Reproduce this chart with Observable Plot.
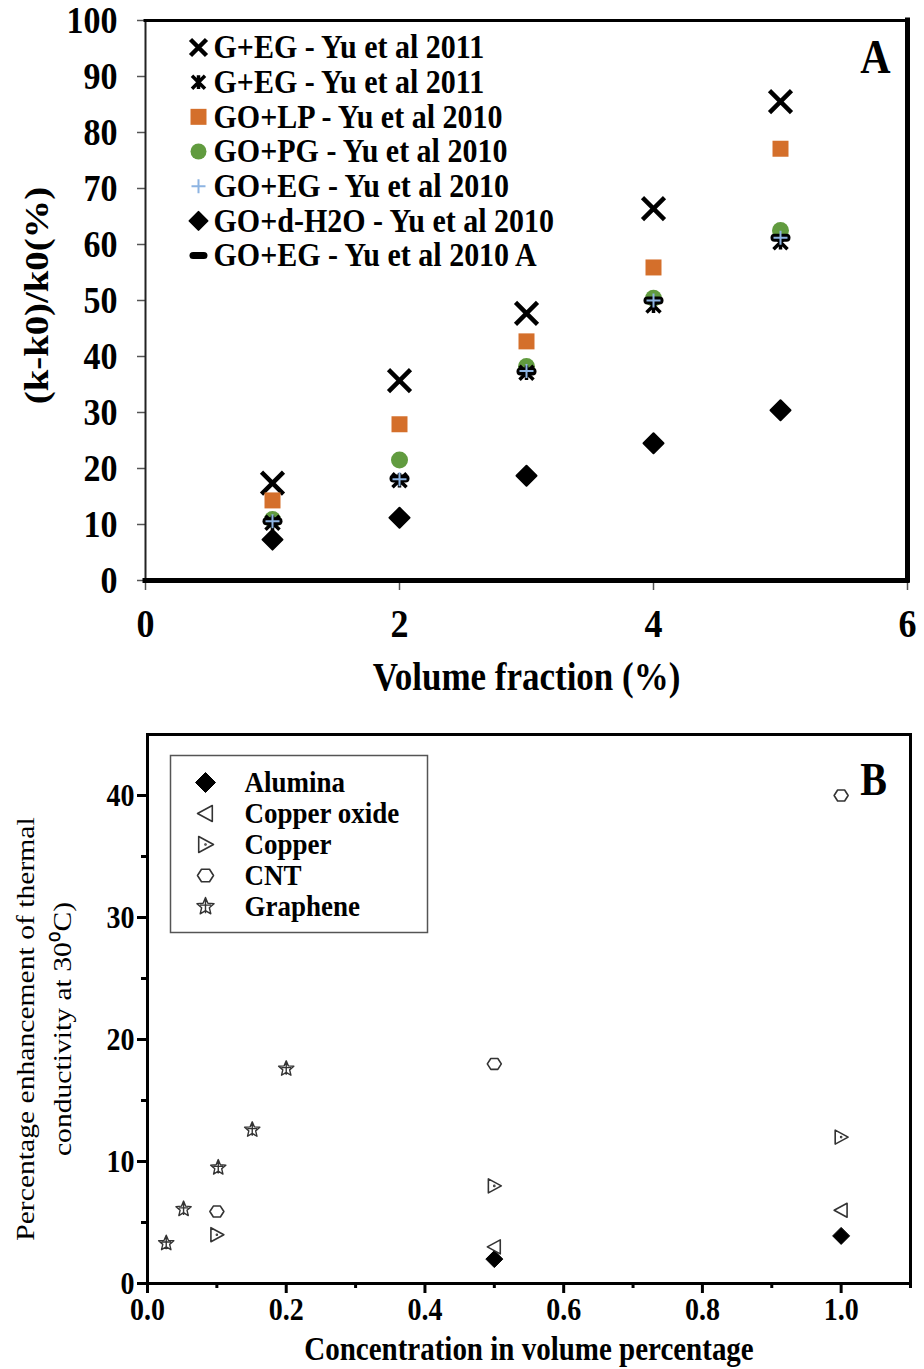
<!DOCTYPE html>
<html><head><meta charset="utf-8">
<script src="https://cdn.jsdelivr.net/npm/d3@7"></script>
<script src="https://cdn.jsdelivr.net/npm/@observablehq/plot@0.6"></script>
<style>
html,body{margin:0;padding:0;background:#fff;overflow:hidden;}
#root{position:relative;width:924px;height:1369px;overflow:hidden;background:#fff;}
#root svg{position:absolute;max-width:none;}
</style></head>
<body><div id="root"></div>
<script>
// ---------------- DATA: panel A ----------------
const xTicksA = [0, 2, 4, 6];
const yTicksA = [0, 10, 20, 30, 40, 50, 60, 70, 80, 90, 100];
const xDomainA = [0, 6];
const yDomainA = [0, 100];
const volumeFraction = [1, 2, 3, 4, 5];
const seriesNamesA = [
  "G+EG - Yu et al 2011",
  "G+EG - Yu et al 2011",
  "GO+LP - Yu et al 2010",
  "GO+PG - Yu et al 2010",
  "GO+EG - Yu et al 2010",
  "GO+d-H2O - Yu et al 2010",
  "GO+EG - Yu et al 2010 A"
];
const gEg2011Cross    = [17.4, 35.7, 47.7, 66.4, 85.5];
const gEg2011Star     = [10.3, 17.9, 37.1, 49.1, 60.4];
const goLp2010        = [14.3, 27.9, 42.7, 55.9, 77.1];
const goPg2010        = [10.9, 21.5, 38.2, 50.4, 62.5];
const goEg2010        = [10.6, 18.1, 37.4, 50.0, 61.2];
const goH2o2010       = [7.3, 11.2, 18.7, 24.5, 30.4];
const goEg2010A       = [10.6, 18.2, 37.3, 50.0, 61.2];
const xLabelA = "Volume fraction (%)";
const yLabelA = "(k-k0)/k0(%)";
const panelLabelA = "A";

// ---------------- DATA: panel B ----------------
const xTicksB = [0, 0.2, 0.4, 0.6, 0.8, 1.0];
const xMinorTicksB = [0.1, 0.3, 0.5, 0.7, 0.9, 1.1];
const yTicksB = [0, 10, 20, 30, 40];
const yMinorTicksB = [5, 15, 25, 35];
const xDomainB = [0, 1.1];
const yDomainB = [0, 45];
const materialsB = ["Alumina", "Copper oxide", "Copper", "CNT", "Graphene"];
const aluminaX = [0.5, 1.0];           const aluminaY = [2.0, 3.9];
const copperOxideX = [0.5, 1.0];       const copperOxideY = [3.0, 6.0];
const copperX = [0.1, 0.5, 1.0];       const copperY = [4.0, 8.0, 12.0];
const cntX = [0.1, 0.5, 1.0];          const cntY = [5.9, 18.0, 40.0];
const grapheneX = [0.027, 0.052, 0.102, 0.151, 0.2];
const grapheneY = [3.3, 6.1, 9.5, 12.6, 17.6];
const xLabelB = "Concentration in volume percentage";
const yLabelB1 = "Percentage enhancement of thermal";
const yLabelB2 = "conductivity at 30\u2070C)";
const panelLabelB = "B";

// ---------------- symbols ----------------
const R = s => Math.sqrt(s / Math.PI);
const symTimes = {draw(c, s){const r = R(s); c.moveTo(-r,-r); c.lineTo(r,r); c.moveTo(-r,r); c.lineTo(r,-r);}};
const symAsterisk = {draw(c, s){const r = R(s); c.moveTo(-r,-r); c.lineTo(r,r); c.moveTo(-r,r); c.lineTo(r,-r); c.moveTo(0,-r*1.05); c.lineTo(0,r*1.05);}};
const symSquare = {draw(c, s){const r = R(s); c.moveTo(-r,-r); c.lineTo(r,-r); c.lineTo(r,r); c.lineTo(-r,r); c.closePath();}};
const symCircle = {draw(c, s){const r = R(s); c.moveTo(r,0); c.arc(0,0,r,0,2*Math.PI);}};
const symPlus = {draw(c, s){const r = R(s); c.moveTo(-r,0); c.lineTo(r,0); c.moveTo(0,-r); c.lineTo(0,r);}};
const symDiamond = {draw(c, s){const r = R(s); c.moveTo(0,-r); c.lineTo(r,0); c.lineTo(0,r); c.lineTo(-r,0); c.closePath();}};
const symDash = {draw(c, s){const w = R(s), h = w*0.4;
  c.moveTo(-w+h,-h); c.lineTo(w-h,-h); c.arc(w-h,0,h,-Math.PI/2,Math.PI/2);
  c.lineTo(-w+h,h); c.arc(-w+h,0,h,Math.PI/2,3*Math.PI/2); c.closePath();}};
const symTriLeft = {draw(c, s){const r = R(s); c.moveTo(-r,0); c.lineTo(r*0.85,-r); c.lineTo(r*0.85,r); c.closePath();}};
const symTriRight = {draw(c, s){const r = R(s); c.moveTo(r,0); c.lineTo(-r*0.85,-r); c.lineTo(-r*0.85,r); c.closePath();
  c.moveTo(0.5,0); c.arc(0,0,0.5,0,2*Math.PI);}};
const symHexagon = {draw(c, s){const r = R(s);
  for (let k = 0; k < 6; k++){const a = Math.PI/3*k; const x = r*Math.cos(a), y = r*0.9*Math.sin(a); k ? c.lineTo(x,y) : c.moveTo(x,y);} c.closePath();}};
const symStar = {draw(c, s){const r = R(s);
  for (let k = 0; k < 10; k++){const a = -Math.PI/2 + Math.PI/5*k; const rr = k%2 ? r*0.45 : r; const x = rr*Math.cos(a), y = rr*Math.sin(a); k ? c.lineTo(x,y) : c.moveTo(x,y);} c.closePath();
  c.moveTo(0,-r); c.lineTo(0,r*0.75); c.moveTo(-r*0.6,-r*0.15); c.lineTo(r*0.6,-r*0.15);}};

// ---------------- styles ----------------
const FONT = "'Liberation Serif','Times New Roman',Times,serif";
const K = 1.14;
const svgStyle = {fontFamily: FONT, background: "transparent", color: "black", overflow: "visible"};

const valuesA = [gEg2011Cross, gEg2011Star, goLp2010, goPg2010, goEg2010, goH2o2010, goEg2010A];
const stylesA = [
  {symbol: symTimes,    r: 11,  lr: 8,   fill: "none",    stroke: "#000",    strokeWidth: 4.5},
  {symbol: symAsterisk, r: 7,   lr: 6.5, fill: "none",    stroke: "#000",    strokeWidth: 3.5},
  {symbol: symSquare,   r: 8,   lr: 8,   fill: "#D46F2B", stroke: "none",    strokeWidth: 0},
  {symbol: symCircle,   r: 8.5, lr: 8,   fill: "#619B3F", stroke: "none",    strokeWidth: 0},
  {symbol: symPlus,     r: 7,   lr: 7,   fill: "none",    stroke: "#8DB4E2", strokeWidth: 2},
  {symbol: symDiamond,  r: 10,  lr: 9,   fill: "#000",    stroke: "#000",    strokeWidth: 2},
  {symbol: symDash,     r: 10,  lr: 9,   fill: "#000",    stroke: "none",    strokeWidth: 0}
];
const drawOrderA = [0, 2, 3, 1, 6, 4, 5];

const rowsA = seriesNamesA.flatMap((name, i) => valuesA[i].map((v, j) => ({series: i, name, x: volumeFraction[j], y: v})));

const xsB = [aluminaX, copperOxideX, copperX, cntX, grapheneX];
const ysB = [aluminaY, copperOxideY, copperY, cntY, grapheneY];
const stylesB = [
  {symbol: symDiamond,  r: 8.5, lr: 10, fill: "#000", stroke: "#000", strokeWidth: 1},
  {symbol: symTriLeft,  r: 7,   lr: 8,  fill: "none", stroke: "#333", strokeWidth: 1.6},
  {symbol: symTriRight, r: 7,   lr: 8,  fill: "none", stroke: "#333", strokeWidth: 1.6},
  {symbol: symHexagon,  r: 7,   lr: 8,  fill: "none", stroke: "#333", strokeWidth: 1.6},
  {symbol: symStar,     r: 8,   lr: 9,  fill: "none", stroke: "#333", strokeWidth: 1.4}
];
const rowsB = materialsB.flatMap((name, i) => xsB[i].map((x, j) => ({series: i, name, x, y: ysB[i][j]})));

// ---------------- helpers ----------------
const isNum = v => v != null && /^\s*-?[\d.]+\s*$/.test(v);
function stretch(svg, k){
  svg.querySelectorAll("text").forEach(t => {
    const tr = t.getAttribute("transform") || "";
    const rotated = /rotate\(/.test(tr);
    let extra = "";
    const x = t.getAttribute("x"), y = t.getAttribute("y");
    const nx = isNum(x) ? +x : 0, ny = isNum(y) ? +y : 0;
    if (nx || ny) {
      extra += ` translate(${nx},${ny})`;
      if (isNum(x)) t.removeAttribute("x");
      if (isNum(y)) t.removeAttribute("y");
    }
    extra += rotated ? ` scale(${k},1)` : ` scale(1,${k})`;
    t.setAttribute("transform", (tr + extra).trim());
  });
}
function place(svg, left, top, k = K){
  svg.style.left = left + "px"; svg.style.top = top + "px";
  stretch(svg, k);
  document.getElementById("root").appendChild(svg);
}
const dotStyle = (st, r) => ({symbol: st.symbol, r, fill: st.fill, stroke: st.stroke, strokeWidth: st.strokeWidth, strokeLinejoin: "round", strokeLinecap: "butt"});

// ---------------- panel A ----------------
const plotA = Plot.plot({
  width: 924, height: 700,
  marginTop: 20, marginBottom: 120, marginLeft: 145, marginRight: 17,
  x: {domain: xDomainA}, y: {domain: yDomainA},
  style: svgStyle,
  marks: [
    Plot.axisY({ticks: yTicksA, tickFormat: d => String(d), tickSize: 8, tickPadding: 20, fontSize: 34, fontWeight: "bold", stroke: "#555", strokeWidth: 1.5, label: null}),
    Plot.axisX({ticks: xTicksA, tickFormat: d => String(d), tickSize: 10, tickPadding: 17, fontSize: 36, fontWeight: "bold", stroke: "#555", strokeWidth: 1.5, label: null}),
    Plot.ruleX([xDomainA[0]], {stroke: "#222", strokeWidth: 2}),
    Plot.ruleY([yDomainA[1]], {stroke: "#000", strokeWidth: 3, strokeLinecap: "square"}),
    Plot.ruleX([xDomainA[1]], {stroke: "#000", strokeWidth: 5, strokeLinecap: "square"}),
    Plot.ruleY([yDomainA[0]], {stroke: "#000", strokeWidth: 5, strokeLinecap: "square"}),
    ...drawOrderA.map(i => Plot.dot(rowsA.filter(d => d.series === i), {x: "x", y: "y", ...dotStyle(stylesA[i], stylesA[i].r)})),
    Plot.text([yLabelA], {text: d => d, frameAnchor: "left", dx: -108, dy: -5, rotate: -90, textAnchor: "middle", lineAnchor: "middle", fontSize: 34, fontWeight: "bold"}),
    Plot.text([xLabelA], {text: d => d, frameAnchor: "bottom", dy: 97, textAnchor: "middle", lineAnchor: "middle", fontSize: 35, fontWeight: "bold"}),
    Plot.text([panelLabelA], {text: d => d, frameAnchor: "top-right", dx: -32, dy: 37, textAnchor: "middle", lineAnchor: "middle", fontSize: 42, fontWeight: "bold"})
  ]
});
place(plotA, 0, 0);

// legend A
const legendRowsA = seriesNamesA.map((name, i) => ({i, name}));
const legendA = Plot.plot({
  width: 924, height: 300, margin: 0,
  y: {domain: [0, seriesNamesA.length - 1], range: [47, 255], axis: null},
  style: svgStyle,
  marks: [
    ...legendRowsA.map(d => Plot.dot([d], {y: "i", frameAnchor: "left", dx: 198, ...dotStyle(stylesA[d.i], stylesA[d.i].lr)})),
    Plot.text(legendRowsA, {y: "i", text: "name", frameAnchor: "left", dx: 213, textAnchor: "start", lineAnchor: "middle", fontSize: 30, fontWeight: "bold"})
  ]
});
place(legendA, 0, 0);

// ---------------- panel B ----------------
const plotB = Plot.plot({
  width: 924, height: 669,
  marginTop: 34, marginBottom: 86, marginLeft: 147, marginRight: 14,
  x: {domain: xDomainB}, y: {domain: yDomainB},
  style: svgStyle,
  marks: [
    Plot.axisY({ticks: yTicksB, tickFormat: d => String(d), tickSize: 10, tickPadding: 3, fontSize: 28, fontWeight: "bold", stroke: "#000", strokeWidth: 3, label: null}),
    Plot.axisY({ticks: yMinorTicksB, tickSize: 6, fill: "none", stroke: "#000", strokeWidth: 3, label: null}),
    Plot.axisX({ticks: xTicksB, tickSize: 10, tickPadding: 4, fontSize: 28, fontWeight: "bold", stroke: "#000", strokeWidth: 3, tickFormat: d3.format(".1f"), label: null}),
    Plot.axisX({ticks: xMinorTicksB, tickSize: 5, fill: "none", stroke: "#000", strokeWidth: 3, label: null}),
    Plot.frame({stroke: "#000", strokeWidth: 3}),
    ...materialsB.map((m, i) => Plot.dot(rowsB.filter(d => d.series === i), {x: "x", y: "y", ...dotStyle(stylesB[i], stylesB[i].r)})),
    Plot.text([yLabelB1], {text: d => d, frameAnchor: "left", dx: -122, dy: 20, rotate: -90, textAnchor: "middle", lineAnchor: "middle", fontSize: 26}),
    Plot.text([yLabelB2], {text: d => d, frameAnchor: "left", dx: -85, dy: 20, rotate: -90, textAnchor: "middle", lineAnchor: "middle", fontSize: 26}),
    Plot.text([xLabelB], {text: d => d, frameAnchor: "bottom", dy: 66, textAnchor: "middle", lineAnchor: "middle", fontSize: 29, fontWeight: "bold"}),
    Plot.text([panelLabelB], {text: d => d, frameAnchor: "top-right", dx: -37, dy: 46, textAnchor: "middle", lineAnchor: "middle", fontSize: 40, fontWeight: "bold"})
  ]
});
place(plotB, 0, 700);

// legend B
const legendRowsB = materialsB.map((name, i) => ({i, name}));
const legendB = Plot.plot({
  width: 259, height: 179, margin: 1,
  y: {domain: [0, materialsB.length - 1], range: [28, 152], axis: null},
  style: svgStyle,
  marks: [
    Plot.frame({stroke: "#555", strokeWidth: 1.5}),
    ...legendRowsB.map(d => Plot.dot([d], {y: "i", frameAnchor: "left", dx: 35, ...dotStyle(stylesB[d.i], stylesB[d.i].lr)})),
    Plot.text(legendRowsB, {y: "i", text: "name", frameAnchor: "left", dx: 74, textAnchor: "start", lineAnchor: "middle", fontSize: 27, fontWeight: "bold"})
  ]
});
place(legendB, 169, 754, 1.06);
</script>
</body></html>
